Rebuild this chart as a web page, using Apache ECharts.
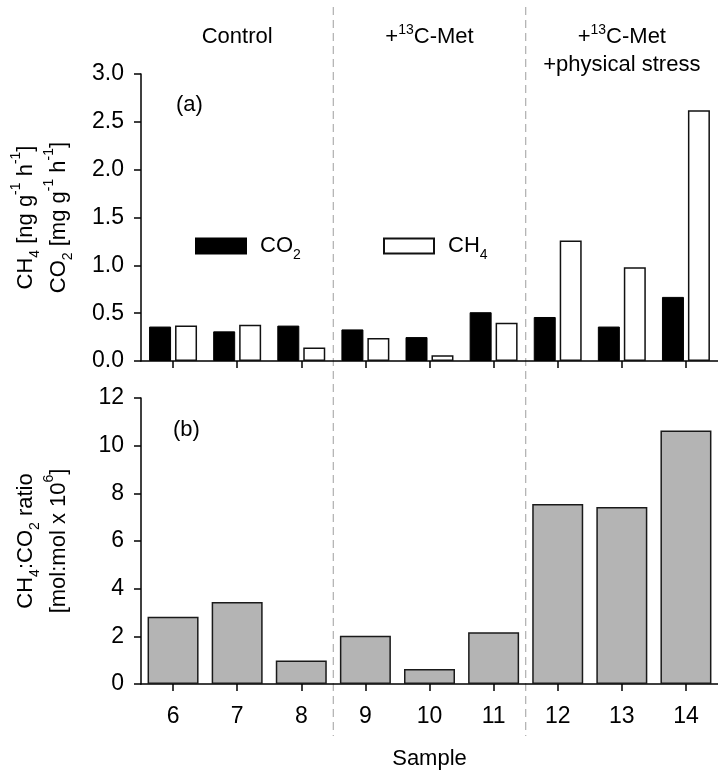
<!DOCTYPE html>
<html><head><meta charset="utf-8">
<script src="https://cdn.jsdelivr.net/npm/echarts@6/dist/echarts.min.js"></script>
<style>html,body{margin:0;padding:0;background:#fff}#c{width:718px;height:778px}</style>
</head><body><div id="c"></div>
<script>
// ---- data ----
const samples = ['6','7','8','9','10','11','12','13','14'];
const co2Rate = [0.36, 0.31, 0.37, 0.33, 0.25, 0.51, 0.46, 0.36, 0.67];
const ch4Rate = [0.37, 0.38, 0.14, 0.24, 0.06, 0.40, 1.26, 0.98, 2.62];
const ratio   = [2.82, 3.44, 0.99, 2.02, 0.63, 2.17, 7.55, 7.43, 10.64];
const groupLabels = ['Control', '+{sup|13}{t|C-Met}', '+{sup|13}{t|C-Met}\n{t|+physical stress}'];
const groupFirst = [0, 3, 6];
const groupLast  = [2, 5, 8];
const rateTicks = { min: 0, max: 3, interval: 0.5 };
const ratioTicks = { min: 0, max: 12, interval: 2 };

// ---- style ----
const FONT = '"Liberation Sans", Arial, Helvetica, sans-serif';
const FS = 22;
const TFS = 23;
const rich = {
  t:   { fontFamily: FONT, fontSize: FS, color: '#000', lineHeight: 33 },
  sub: { fontFamily: FONT, fontSize: 14, color: '#000', verticalAlign: 'bottom', lineHeight: 18 },
  sup: { fontFamily: FONT, fontSize: 14, color: '#000', verticalAlign: 'top', lineHeight: 20 },
  p:   { width: 9 }
};
const axisLine = { show: true, lineStyle: { color: '#000', width: 1.5 } };
const axisTick = { show: true, length: 7, lineStyle: { color: '#000', width: 1.5 } };
const labelStyle = { fontFamily: FONT, fontSize: TFS, color: '#000' };

const chart = echarts.init(document.getElementById('c'), null, { renderer: 'canvas' });

const option = {
  backgroundColor: '#fff',
  animation: false,
  grid: [
    { left: 141, top: 74, width: 578, height: 287 },
    { left: 141, top: 398, width: 578, height: 286 }
  ],
  legend: [
    { data: ['CO2'], left: 190, top: 230, icon: 'rect', itemWidth: 50, itemHeight: 15,
      formatter: () => '{p|}{t|CO}{sub|2}', textStyle: { rich: rich }, selectedMode: false },
    { data: ['CH4'], left: 378, top: 230, icon: 'rect', itemWidth: 50, itemHeight: 15,
      formatter: () => '{p|}{t|CH}{sub|4}', textStyle: { rich: rich }, selectedMode: false }
  ],
  xAxis: [
    { type: 'category', gridIndex: 0, data: samples, axisLine, axisTick: Object.assign({ alignWithLabel: true }, axisTick),
      axisLabel: { show: false }, splitLine: { show: false } },
    { type: 'category', gridIndex: 1, data: samples, axisLine, axisTick: Object.assign({ alignWithLabel: true }, axisTick),
      axisLabel: Object.assign({ margin: 21 }, labelStyle), splitLine: { show: false },
      name: 'Sample', nameLocation: 'middle', nameGap: 64,
      nameTextStyle: { fontFamily: FONT, fontSize: FS, color: '#000' } }
  ],
  yAxis: [
    { type: 'value', gridIndex: 0, min: rateTicks.min, max: rateTicks.max, interval: rateTicks.interval,
      axisLine, axisTick, splitLine: { show: false },
      axisLabel: Object.assign({ margin: 17, formatter: v => v.toFixed(1) }, labelStyle),
      name: '{t|CH}{sub|4}{t| [ng g}{sup|-1}{t| h}{sup|-1}{t|]}\n{t|CO}{sub|2}{t| [mg g}{sup|-1}{t| h}{sup|-1}{t|]}',
      nameLocation: 'middle', nameRotate: 90, nameGap: 66,
      nameTextStyle: { rich: rich, lineHeight: 33, align: 'center' } },
    { type: 'value', gridIndex: 1, min: ratioTicks.min, max: ratioTicks.max, interval: ratioTicks.interval,
      axisLine, axisTick, splitLine: { show: false },
      axisLabel: Object.assign({ margin: 17 }, labelStyle),
      name: '{t|CH}{sub|4}{t|:CO}{sub|2}{t| ratio}\n{t|[mol:mol x 10}{sup|6}{t|]}',
      nameLocation: 'middle', nameRotate: 90, nameGap: 66,
      nameTextStyle: { rich: rich, lineHeight: 33, align: 'center' } }
  ],
  series: [
    { name: 'CO2', type: 'bar', xAxisIndex: 0, yAxisIndex: 0, data: co2Rate, barWidth: 22, barGap: '18%',
      itemStyle: { color: '#000', borderColor: '#000', borderWidth: 1 } },
    { name: 'CH4', type: 'bar', xAxisIndex: 0, yAxisIndex: 0, data: ch4Rate, barWidth: 22, barGap: '18%',
      itemStyle: { color: '#fff', borderColor: '#111', borderWidth: 1.5 } },
    { name: 'ratio', type: 'bar', xAxisIndex: 1, yAxisIndex: 1, data: ratio, barWidth: 51,
      itemStyle: { color: '#b4b4b4', borderColor: '#1a1a1a', borderWidth: 1.5 } }
  ]
};
chart.setOption(option);

// ---- dividers, group headers, panel letters (positions derived from the axis) ----
const px = i => chart.convertToPixel({ xAxisIndex: 0 }, samples[i]);
const graphics = [];
for (let g = 1; g < groupFirst.length; g++) {
  const x = (px(groupLast[g - 1]) + px(groupFirst[g])) / 2;
  graphics.push({ type: 'line', silent: true, z: 0,
    shape: { x1: x, y1: 7, x2: x, y2: 736 },
    style: { stroke: '#b5b5b5', lineWidth: 1.3, lineDash: [8, 5] } });
}
const headerRich = Object.assign({}, rich, {
  t: { fontFamily: FONT, fontSize: FS, color: '#000', lineHeight: 28 },
  sup: { fontFamily: FONT, fontSize: 14, color: '#000', verticalAlign: 'top', lineHeight: 22 }
});
for (let g = 0; g < groupLabels.length; g++) {
  const cx = (px(groupFirst[g]) + px(groupLast[g])) / 2;
  const lbl = groupLabels[g].startsWith('{') ? groupLabels[g] : (groupLabels[g].startsWith('+') ? '{t|+}' + groupLabels[g].slice(1) : '{t|' + groupLabels[g] + '}');
  graphics.push({ type: 'text', silent: true,
    style: { text: lbl, x: cx, y: 23, align: 'center', verticalAlign: 'top', rich: headerRich } });
}
graphics.push({ type: 'text', silent: true, style: { text: '(a)', x: 176, y: 105, verticalAlign: 'middle', font: FS + 'px ' + FONT, fill: '#000' } });
graphics.push({ type: 'text', silent: true, style: { text: '(b)', x: 173, y: 430, verticalAlign: 'middle', font: FS + 'px ' + FONT, fill: '#000' } });
chart.setOption({ graphic: graphics });
</script>
</body></html>
